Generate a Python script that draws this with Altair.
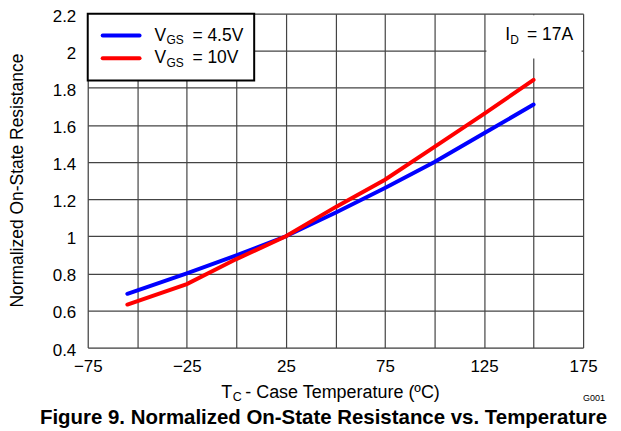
import altair as alt
import pandas as pd

# ---- data ----
temps = [-55, -25, 0, 25, 50, 75, 100, 125, 150]
r_vgs45 = [0.69, 0.80, 0.897, 1.0, 1.127, 1.26, 1.40, 1.555, 1.71]
r_vgs10 = [0.632, 0.742, 0.877, 1.0, 1.157, 1.305, 1.482, 1.66, 1.843]
series_names = ["VGS = 4.5V", "VGS = 10V"]
series_colors = ["#0000FF", "#FF0000"]

x_ticks = [-75, -50, -25, 0, 25, 50, 75, 100, 125, 150, 175]
y_ticks = [0.4, 0.6, 0.8, 1.0, 1.2, 1.4, 1.6, 1.8, 2.0, 2.2]

y_title = "Normalized On-State Resistance"
x_title_main, x_title_sub, x_title_rest = "T", "C", "- Case Temperature (\u00baC)"
legend_main, legend_sub = "V", "GS"
legend_rest = ["= 4.5V", "= 10V"]
id_main, id_sub, id_rest = "I", "D", "= 17A"
fig_title = "Figure 9. Normalized On-State Resistance vs. Temperature"
code_label = "G001"

FONT = "Liberation Sans"
W, H = 497, 335

rows = []
for name, vals in zip(series_names, [r_vgs45, r_vgs10]):
    for t, v in zip(temps, vals):
        rows.append({"T": t, "R": v, "series": name})
df = pd.DataFrame(rows)

lines = alt.Chart(df).mark_line(strokeWidth=4, strokeCap="round").encode(
    x=alt.X("T:Q", scale=alt.Scale(domain=[-75, 175], nice=False, zero=False),
            axis=alt.Axis(values=x_ticks, title=None, domain=False, ticks=False, tickSize=0,
                          labelPadding=11, labelFontSize=17, labelFont=FONT, labelColor="black",
                          labelExpr="(datum.value + 75) % 50 == 0 ? datum.label : ''",
                          grid=True, gridColor="#444", gridWidth=1.2, labelFlush=False)),
    y=alt.Y("R:Q", scale=alt.Scale(domain=[0.4, 2.2], nice=False, zero=False),
            axis=alt.Axis(values=y_ticks, title=None, domain=False, ticks=False, tickSize=0,
                          labelPadding=12, labelFontSize=17, labelFont=FONT, labelColor="black",
                          format="~g", labelOffset=2.5, grid=True, gridColor="#444", gridWidth=1.2,
                          labelFlush=False)),
    color=alt.Color("series:N", scale=alt.Scale(domain=series_names, range=series_colors), legend=None),
    order=alt.Order("T:Q"),
)


def one():
    return pd.DataFrame({"k": [0]})


def txt(s, x, y, size, align="left", weight="normal", angle=0, baseline="alphabetic"):
    return alt.Chart(pd.DataFrame({"t": [s]})).mark_text(
        align=align, baseline=baseline, fontSize=size, fontWeight=weight, font=FONT,
        color="black", angle=angle
    ).encode(x=alt.value(x), y=alt.value(y), text="t:N")


def box(x1, x2, y1, y2, stroke=None, sw=0):
    kw = dict(fill="white")
    if stroke:
        kw.update(stroke=stroke, strokeWidth=sw)
    return alt.Chart(one()).mark_rect(**kw).encode(
        x=alt.value(x1), x2=alt.value(x2), y=alt.value(y1), y2=alt.value(y2))


def swatch(x1, x2, y, color):
    return alt.Chart(one()).mark_rule(color=color, strokeWidth=4, strokeCap="round").encode(
        x=alt.value(x1), x2=alt.value(x2), y=alt.value(y))


layers = [
    lines,
    box(0, 167, 0, 67, stroke="black", sw=2),
    box(400, 495.5, 1.5, 45),
    swatch(15, 52, 22, series_colors[0]),
    swatch(15, 52, 44.7, series_colors[1]),
]
for i, rest in enumerate(legend_rest):
    base = 27 + i * 22.7
    layers.append(txt(legend_main, 67, base, 17.5))
    layers.append(txt(legend_sub, 79, base + 3.3, 12))
    layers.append(txt(rest, 105, base, 17.5))

layers += [
    txt(id_main, 419, 26.3, 17.5),
    txt(id_sub, 424, 30.3, 12),
    txt(id_rest, 487, 26.3, 17.5, align="right"),
    txt(y_title, -70, H / 2, 17.5, align="center", angle=270, baseline="middle"),
    txt(x_title_main, 134, 385.3, 18),
    txt(x_title_sub, 145.5, 388.7, 12.5),
    txt(x_title_rest, 158, 385.3, 18),
    txt(code_label, 519, 389, 9, align="right"),
    txt(fig_title, 236.5, 411.3, 20.5, align="center", weight="bold"),
]

chart = alt.layer(*layers).properties(
    width=W, height=H,
    padding={"left": 80, "top": 5, "right": 30, "bottom": 80},
    autosize=alt.AutoSizeParams(type="none"),
).configure_view(stroke="black", strokeWidth=2.5).configure(font=FONT, background="white")

chart.save("out.html", embed_options={"renderer": "svg", "actions": False})
